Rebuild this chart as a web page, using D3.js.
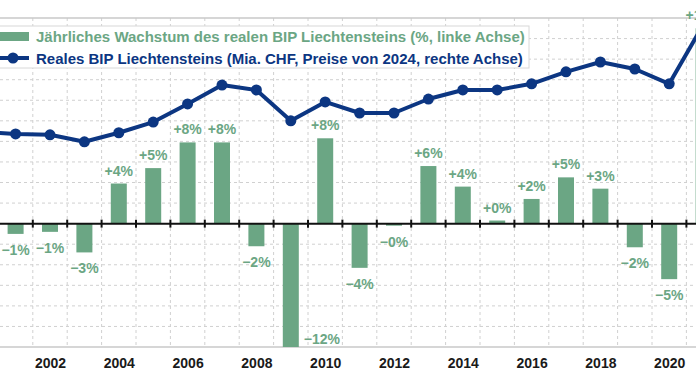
<!DOCTYPE html>
<html>
<head>
<meta charset="utf-8">
<script src="https://cdn.jsdelivr.net/npm/d3@7"></script>
<style>
  body { margin: 0; background: #fff; }
  svg { display: block; font-family: "Liberation Sans", Arial, sans-serif; }
</style>
</head>
<body>
<div id="chart"></div>
<script>
// Jahre und Werte
const years = [2000, 2001, 2002, 2003, 2004, 2005, 2006, 2007, 2008, 2009, 2010,
               2011, 2012, 2013, 2014, 2015, 2016, 2017, 2018, 2019, 2020, 2021];
// Jährliches Wachstum (%), linke Achse
const growth = [3.0, -1.0, -0.8, -2.8, 3.9, 5.4, 7.9, 7.9, -2.2, -12.0, 8.3,
                -4.3, -0.2, 5.6, 3.6, 0.3, 2.4, 4.5, 3.4, -2.3, -5.4, 19.0];
// Reales BIP (Mia. CHF, Preise von 2024), rechte Achse
const gdp = [5.23, 5.18, 5.16, 4.99, 5.21, 5.47, 5.91, 6.37, 6.25, 5.50, 5.96,
             5.69, 5.69, 6.03, 6.25, 6.25, 6.40, 6.69, 6.93, 6.76, 6.40, 7.85];
const tickYears = [2002, 2004, 2006, 2008, 2010, 2012, 2014, 2016, 2018, 2020];
const legendLabels = [
  "Jährliches Wachstum des realen BIP Liechtensteins (%, linke Achse)",
  "Reales BIP Liechtensteins (Mia. CHF, Preise von 2024, rechte Achse)"
];

const width = 696;
const height = 385;
const plot = { top: 18, bottom: 347, left: -36, right: 720.8 };

const green = "#6ba684";
const blue = "#0c3682";

const x = d3.scaleLinear()
    .domain([1999.5, 2021.5])
    .range([plot.left, plot.right]);

const yL = d3.scaleLinear()
    .domain([-12, 20])
    .range([plot.bottom, plot.top]);

const yR = d3.scaleLinear()
    .domain([0, 8])
    .range([plot.bottom, plot.top]);

const svg = d3.select("#chart").append("svg")
    .attr("width", width)
    .attr("height", height);

// Gitter
const boundaries = d3.range(1999.5, 2022, 1);
svg.append("g")
    .selectAll("line")
    .data(boundaries)
    .join("line")
    .attr("x1", d => x(d)).attr("x2", d => x(d))
    .attr("y1", plot.top).attr("y2", plot.bottom)
    .attr("stroke", "#d0d0d0")
    .attr("stroke-dasharray", "3,3");

svg.append("g")
    .selectAll("line")
    .data(d3.range(-10, 20, 2))
    .join("line")
    .attr("x1", 0).attr("x2", width)
    .attr("y1", d => yL(d)).attr("y2", d => yL(d))
    .attr("stroke", "#d0d0d0")
    .attr("stroke-dasharray", "3,3");

// Rahmen oben / unten
[yL(20), yL(-12)].forEach(v => {
  svg.append("line")
      .attr("x1", 0).attr("x2", width)
      .attr("y1", v).attr("y2", v)
      .attr("stroke", "#c8c8c8")
      .attr("stroke-width", 1.5);
});

// Balken
const barW = 16;
const rows = years.map((yr, i) => ({ year: yr, g: growth[i], v: gdp[i] }));

svg.append("g")
    .selectAll("rect")
    .data(rows)
    .join("rect")
    .attr("x", d => x(d.year) - barW / 2)
    .attr("width", barW)
    .attr("y", d => yL(Math.max(0, d.g)))
    .attr("height", d => Math.abs(yL(d.g) - yL(0)))
    .attr("fill", green);

// Nulllinie mit Ticks
svg.append("line")
    .attr("x1", 0).attr("x2", width)
    .attr("y1", yL(0)).attr("y2", yL(0))
    .attr("stroke", "#111")
    .attr("stroke-width", 2);

svg.append("g")
    .selectAll("line")
    .data(boundaries)
    .join("line")
    .attr("x1", d => x(d)).attr("x2", d => x(d))
    .attr("y1", yL(0) - 4).attr("y2", yL(0) + 4)
    .attr("stroke", "#111")
    .attr("stroke-width", 2);

// Balkenbeschriftung (nur sichtbare Jahre)
const fmt = d3.format("+.0f");
const atBottom = d => d.g < 0 && yL(d.g) + 24 > plot.bottom;
svg.append("g")
    .selectAll("text")
    .data(rows.filter(d => d.year > 2000))
    .join("text")
    .attr("x", d => atBottom(d) ? x(d.year) + barW / 2 + 5 : x(d.year))
    .attr("y", d => {
      if (d.g >= 0) return yL(d.g) - 8;
      if (atBottom(d)) return plot.bottom - 3;
      return yL(d.g) + 21;
    })
    .attr("text-anchor", d => atBottom(d) ? "start" : "middle")
    .attr("fill", green)
    .attr("font-size", 14)
    .attr("font-weight", "bold")
    .text(d => fmt(d.g) + "%");

// BIP-Linie
const line = d3.line()
    .x(d => x(d.year))
    .y(d => yR(d.v));

svg.append("path")
    .datum(rows)
    .attr("d", line)
    .attr("fill", "none")
    .attr("stroke", blue)
    .attr("stroke-width", 4)
    .attr("stroke-linejoin", "round");

svg.append("g")
    .selectAll("circle")
    .data(rows)
    .join("circle")
    .attr("cx", d => x(d.year))
    .attr("cy", d => yR(d.v))
    .attr("r", 5.5)
    .attr("fill", blue);

// x-Achse
svg.append("g")
    .attr("transform", `translate(0,${plot.bottom})`)
    .call(d3.axisBottom(x).tickValues(tickYears).tickFormat(d3.format("d")).tickSize(0).tickPadding(11))
    .call(g => g.select(".domain").remove())
    .selectAll("text")
    .attr("font-size", 14)
    .attr("font-weight", "bold")
    .attr("font-family", "Liberation Sans, Arial, sans-serif")
    .attr("fill", "#1a1a1a");

// Legende
const legend = svg.append("g");
legend.append("rect")
    .attr("x", -10).attr("y", 26)
    .attr("width", 539).attr("height", 42)
    .attr("fill", "#fff")
    .attr("stroke", "#d8d8d8");

legend.append("rect")
    .attr("x", -10).attr("y", 32)
    .attr("width", 39).attr("height", 9)
    .attr("fill", green);

legend.append("line")
    .attr("x1", -10).attr("x2", 29)
    .attr("y1", 58).attr("y2", 58)
    .attr("stroke", blue)
    .attr("stroke-width", 4);
legend.append("circle")
    .attr("cx", 13).attr("cy", 58).attr("r", 5.5)
    .attr("fill", blue);

legend.selectAll("text")
    .data(legendLabels)
    .join("text")
    .attr("x", 36)
    .attr("y", (d, i) => 41.5 + i * 22)
    .attr("fill", (d, i) => i === 0 ? green : blue)
    .attr("font-size", 15)
    .attr("font-weight", "bold")
    .text(d => d);
</script>
</body>
</html>
